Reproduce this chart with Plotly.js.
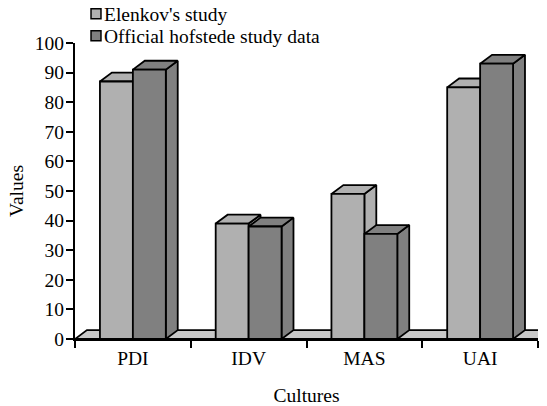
<!DOCTYPE html>
<html><head><meta charset="utf-8">
<script src="https://cdn.plot.ly/plotly-3.0.1.min.js"></script>
<style>html,body{margin:0;padding:0;background:#fff}</style></head>
<body><div id="chart" style="width:547px;height:406px"></div>
<script>
var categories = ["PDI", "IDV", "MAS", "UAI"];
var elenkov = [87, 39, 49, 85];
var official = [91, 38, 35.5, 93];
var yTicks = [0,10,20,30,40,50,60,70,80,90,100];
var seriesNames = ["Elenkov's study", "Official hofstede study data"];
var seriesColors = ["#b0b0b0", "#808080"];

var FONT = "'Liberation Serif','Times New Roman',serif";
var FS = 19.5;
var LW = 1.8, bargap = 0.431, depthX = 0.103, depthY = 3;
var barW = (1 - bargap) / 2;

function poly(xs, ys, color) {
  return {type:'scatter', mode:'lines', x:xs.concat(xs[0]), y:ys.concat(ys[0]), fill:'toself',
    fillcolor:color, line:{color:'#000', width:LW, simplify:false}, hoverinfo:'skip',
    showlegend:false, cliponaxis:false, xaxis:'x', yaxis:'y'};
}
var data = [];
data.push(poly([-0.5, 3.5, 3.5+depthX, -0.5+depthX], [0, 0, depthY, depthY], '#c8c8c8'));
[elenkov, official].forEach(function(vals, s) {
  vals.forEach(function(v, i) {
    var x0 = i - barW + s*barW, x1 = x0 + barW;
    data.push(poly([x1, x1+depthX, x1+depthX, x1], [v, v+depthY, depthY, 0], seriesColors[s]));
    data.push(poly([x0, x1, x1+depthX, x0+depthX], [v, v, v+depthY, v+depthY], seriesColors[s]));
  });
});
[elenkov, official].forEach(function(vals, s) {
  data.push({type:'bar', name:seriesNames[s], x:categories, y:vals, xaxis:'x2', yaxis:'y',
    marker:{color:seriesColors[s], line:{color:'#000', width:LW}}, hoverinfo:'x+y+name'});
});

var tf = {family:FONT, size:FS, color:'#000'};
var xDomain = [15/478, 1], yDomain = [0, 296/338];
var layout = {
  width:547, height:406, margin:{l:60, r:9, t:1, b:67, pad:0},
  paper_bgcolor:'#fff', plot_bgcolor:'#fff',
  font:tf,
  barmode:'group', bargap:bargap, bargroupgap:0,
  showlegend:true,
  legend:{x:4/478, xanchor:'left', y:1, yanchor:'top',
          bgcolor:'rgba(0,0,0,0)', font:tf, traceorder:'normal'},
  xaxis:{domain:xDomain, range:[-0.5,3.5], visible:false, fixedrange:true},
  xaxis2:{domain:xDomain, overlaying:'x', anchor:'y', side:'bottom', type:'category', categoryorder:'array', categoryarray:categories,
    range:[-0.5,3.5], tickson:'boundaries', ticks:'outside', ticklen:7, tickwidth:2, tickcolor:'#000',
    showline:true, linecolor:'#000', linewidth:2, showgrid:false, zeroline:false, fixedrange:true,
    tickfont:tf, ticklabelstandoff:1,
    title:{text:'Cultures', font:tf, standoff:21}},
  yaxis:{domain:yDomain, range:[0,100], tickmode:'array', tickvals:yTicks, ticks:'outside', ticklen:7, tickwidth:2, tickcolor:'#000',
    showline:true, linecolor:'#000', linewidth:2, showgrid:false, zeroline:false, fixedrange:true,
    tickfont:tf, ticklabelstandoff:-2,
    title:{text:'Values', font:tf, standoff:6}}
};
Plotly.newPlot('chart', data, layout, {displayModeBar:false}).then(function(gd) {
  // tighten the legend to the reference: smaller swatch next to the text, 22px line pitch
  var items = gd.querySelectorAll('.legend .traces');
  var y0 = null;
  items.forEach(function(it, i) {
    var m = /translate\(\s*([-\d.]+)[ ,]+([-\d.]+)/.exec(it.getAttribute('transform') || '');
    if (!m) return;
    if (y0 === null) y0 = parseFloat(m[2]);
    it.setAttribute('transform', 'translate(' + m[1] + ',' + (y0 + i*22) + ')');
    var l = it.querySelector('.layers');
    if (l) l.setAttribute('transform', 'translate(15.4,0) scale(0.83)');
  });
  var lg = gd.querySelector('.legend');
  var t = /translate\(\s*([-\d.]+)[ ,]+([-\d.]+)/.exec(lg.getAttribute('transform') || '');
  if (t) lg.setAttribute('transform', 'translate(' + t[1] + ',' + (parseFloat(t[2]) - 6.5) + ')');
});
</script></body></html>
